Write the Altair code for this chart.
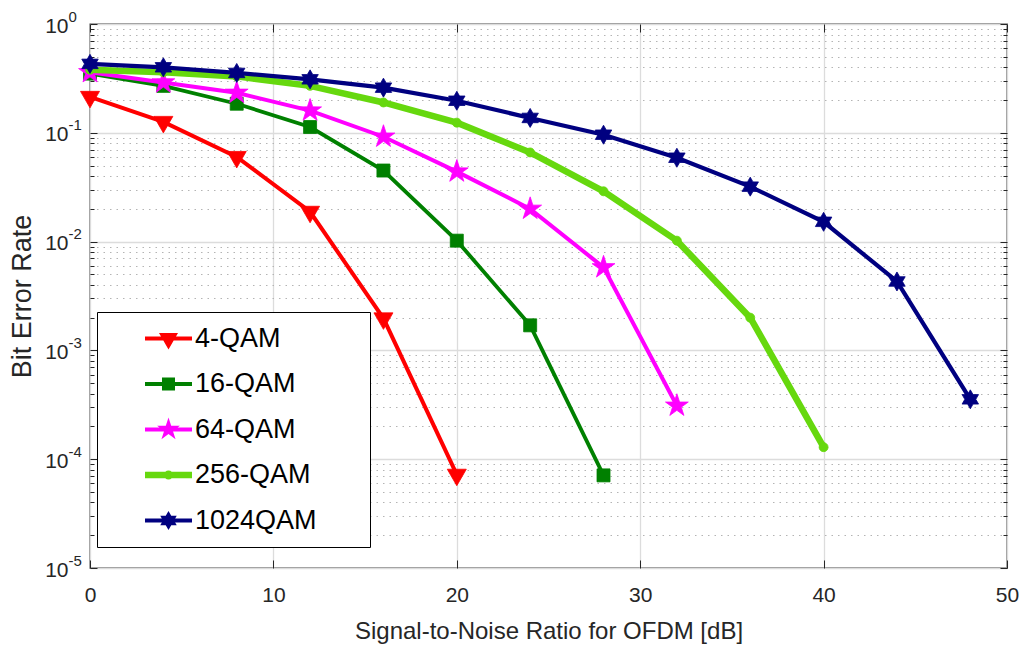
import math
import altair as alt
import pandas as pd

# ---------------- data ----------------
SERIES = ["4-QAM", "16-QAM", "64-QAM", "256-QAM", "1024QAM"]
COLORS = ["#ff0000", "#008000", "#ff00ff", "#66d80e", "#000080"]
LINE_WIDTHS = [4, 3.8, 4, 6.5, 4.2]

SNR_4 = [0, 4, 8, 12, 16, 20]
BER_4 = [0.214, 0.126, 0.060, 0.0188, 0.00197, 7.2e-5]

SNR_16 = [0, 4, 8, 12, 16, 20, 24, 28]
BER_16 = [0.35, 0.27, 0.185, 0.113, 0.045, 0.0102, 0.0017, 7.1e-5]

SNR_64 = [0, 4, 8, 12, 16, 20, 24, 28, 32]
BER_64 = [0.36, 0.29, 0.233, 0.16, 0.092, 0.044, 0.020, 0.0058, 3.1e-4]

SNR_256 = [0, 4, 8, 12, 16, 20, 24, 28, 32, 36, 40]
BER_256 = [0.38, 0.36, 0.33, 0.27, 0.19, 0.124, 0.066, 0.029, 0.0102, 0.0020, 1.29e-4]

SNR_1024 = [0, 4, 8, 12, 16, 20, 24, 28, 32, 36, 40, 44, 48]
BER_1024 = [0.43, 0.40, 0.355, 0.31, 0.26, 0.197, 0.137, 0.096, 0.059, 0.032, 0.0152, 0.0043, 3.55e-4]

X_TICKS = [0, 10, 20, 30, 40, 50]
Y_MAJOR = [1, 1e-1, 1e-2, 1e-3, 1e-4, 1e-5]
Y_MINOR = [m * 10.0 ** e for e in range(-5, 0) for m in range(2, 10)]

X_TITLE = "Signal-to-Noise Ratio for OFDM [dB]"
Y_TITLE = "Bit Error Rate"

rows = []
for name, xs, ys in zip(SERIES, [SNR_4, SNR_16, SNR_64, SNR_256, SNR_1024],
                        [BER_4, BER_16, BER_64, BER_256, BER_1024]):
    for x, y in zip(xs, ys):
        rows.append({"series": name, "snr": x, "ber": y})
df = pd.DataFrame(rows)

# ---------------- marker shapes (style) ----------------
S = 12.0  # px per path unit  -> symbol size (2*S)^2


def poly(pts):
    return "M" + "L".join(f"{x / S:.3f},{y / S:.3f}" for x, y in pts) + "Z"


def star(n, R, r):
    pts = []
    for i in range(2 * n):
        a = -math.pi / 2 + i * math.pi / n
        rad = R if i % 2 == 0 else r
        pts.append((rad * math.cos(a), rad * math.sin(a)))
    return poly(pts)


def circle(r):
    u = r / S
    return f"M{-u:.3f},0A{u:.3f},{u:.3f} 0 1 1 {u:.3f},0A{u:.3f},{u:.3f} 0 1 1 {-u:.3f},0Z"


MARKERS = [
    poly([(-9.5, -5.5), (9.5, -5.5), (0, 11)]),
    poly([(-6.5, -6.5), (6.5, -6.5), (6.5, 6.5), (-6.5, 6.5)]),
    star(5, 12, 4.6),
    circle(4.5),
    star(6, 9.5, 5.5),
]
LEG_PATHS = [poly([(-23.5, -w / 2), (23.5, -w / 2), (23.5, w / 2), (-23.5, w / 2)]) + m
             for w, m in zip(LINE_WIDTHS, MARKERS)]

W, H = 917, 544
FONT = "Liberation Sans"
AX = "#262626"

x_sc = alt.Scale(domain=[0, 50], nice=False, zero=False)
y_sc = alt.Scale(type="log", domain=[1e-5, 1], nice=False)

base = alt.Chart(df)


def ghost():
    return base.mark_point(opacity=0)


# major grid + tick labels + titles
L1 = ghost().encode(
    x=alt.X("snr:Q", scale=x_sc, axis=alt.Axis(
        orient="bottom", values=X_TICKS, grid=True, gridColor="#dcdcdc", gridWidth=1.3,
        ticks=False, tickSize=0, domain=False, labelFlush=False,
        labelFont=FONT, labelFontSize=21, labelColor=AX, labelPadding=16,
        title=X_TITLE, titleFont=FONT, titleFontSize=24, titleFontWeight="normal",
        titleColor=AX, titleX=W / 2, titleY=70, titleBaseline="alphabetic", titleAlign="center")),
    y=alt.Y("ber:Q", scale=y_sc, axis=alt.Axis(
        orient="left", values=Y_MAJOR, grid=True, gridColor="#dcdcdc", gridWidth=1.3,
        ticks=False, tickSize=0, domain=False, labelExpr="'10'",
        labelAlign="right", labelBaseline="middle", labelPadding=22, labelOffset=2,
        labelFont=FONT, labelFontSize=21, labelColor=AX,
        title=Y_TITLE, titleFont=FONT, titleFontSize=27, titleFontWeight="normal",
        titleColor=AX, titleX=-68, titleY=H / 2, titleAngle=270,
        titleBaseline="middle", titleAlign="center")),
)

# minor dotted grid
L4 = ghost().encode(
    y=alt.Y("ber:Q", scale=y_sc, axis=alt.Axis(
        orient="left", values=Y_MINOR, grid=True, gridColor="#b4b4b4", gridWidth=1,
        gridDash=[1.5, 5], ticks=False, tickSize=0, labels=False, domain=False, title=None)),
)

# exponent labels
L7 = ghost().encode(
    y=alt.Y("ber:Q", scale=y_sc, axis=alt.Axis(
        orient="left", values=Y_MAJOR, grid=False, ticks=False, tickSize=0, domain=False,
        labelExpr="toString(round(log(datum.value) / LN10))", labelAlign="left",
        labelBaseline="middle", labelPadding=22, labelOffset=-8,
        labelFont=FONT, labelFontSize=15, labelColor=AX, title=None)),
)

# inward ticks: bottom & left
L2 = ghost().encode(
    x=alt.X("snr:Q", scale=x_sc, axis=alt.Axis(
        orient="top", offset=-H, values=X_TICKS, grid=False, labels=False, domain=False,
        ticks=True, tickSize=8, tickColor=AX, tickWidth=1, title=None)),
    y=alt.Y("ber:Q", scale=y_sc, axis=alt.Axis(
        orient="right", offset=-W, values=Y_MAJOR, grid=False, labels=False, domain=False,
        ticks=True, tickSize=7, tickColor=AX, tickWidth=1, title=None)),
)
# inward ticks: top & right
L3 = ghost().encode(
    x=alt.X("snr:Q", scale=x_sc, axis=alt.Axis(
        orient="bottom", offset=-H, values=X_TICKS, grid=False, labels=False, domain=False,
        ticks=True, tickSize=8, tickColor=AX, tickWidth=1, title=None)),
    y=alt.Y("ber:Q", scale=y_sc, axis=alt.Axis(
        orient="left", offset=-W, values=Y_MAJOR, grid=False, labels=False, domain=False,
        ticks=True, tickSize=7, tickColor=AX, tickWidth=1, title=None)),
)
# minor inward ticks
L5 = ghost().encode(
    y=alt.Y("ber:Q", scale=y_sc, axis=alt.Axis(
        orient="right", offset=-W, values=Y_MINOR, grid=False, labels=False, domain=False,
        ticks=True, tickSize=4, tickColor=AX, tickWidth=1, title=None)),
)
L6 = ghost().encode(
    y=alt.Y("ber:Q", scale=y_sc, axis=alt.Axis(
        orient="left", offset=-W, values=Y_MINOR, grid=False, labels=False, domain=False,
        ticks=True, tickSize=4, tickColor=AX, tickWidth=1, title=None)),
)

# data: one line + marker layer per series (later series drawn on top)
series_layers = []
for name, col, lw, mk in zip(SERIES, COLORS, LINE_WIDTHS, MARKERS):
    sub = base.transform_filter(alt.datum.series == name)
    series_layers.append(sub.mark_line(color=col, strokeWidth=lw).encode(
        x=alt.X("snr:Q", scale=x_sc, axis=None),
        y=alt.Y("ber:Q", scale=y_sc, axis=None),
    ))
    series_layers.append(sub.mark_point(shape=mk, filled=True, color=col, opacity=1,
                                        size=(2 * S) ** 2, stroke=col, strokeWidth=0.8).encode(
        x=alt.X("snr:Q", scale=x_sc, axis=None),
        y=alt.Y("ber:Q", scale=y_sc, axis=None),
    ))

# the (invisible, white) title on the right only widens the legend box
LEG = alt.Legend(
    title="MM", titleOrient="right", titleColor="white", titleFontSize=21,
    titlePadding=5, titleFont=FONT,
    orient="none", legendX=7, legendY=288, padding=13,
    fillColor="white", strokeColor="#000000",
    symbolSize=(2 * S) ** 2, symbolStrokeWidth=0, symbolOffset=45, symbolOpacity=1,
    labelOffset=13, labelFont=FONT, labelFontSize=27, labelColor="#000000",
    labelLimit=600, rowPadding=17.5,
)

legend_layer = base.transform_filter("datum.ber < 0").mark_point(filled=True, opacity=1).encode(
    x=alt.X("snr:Q", scale=x_sc, axis=None),
    y=alt.Y("ber:Q", scale=y_sc, axis=None),
    color=alt.Color("series:N", scale=alt.Scale(domain=SERIES, range=COLORS), legend=LEG),
    shape=alt.Shape("series:N", scale=alt.Scale(domain=SERIES, range=LEG_PATHS), legend=LEG),
)

chart = alt.layer(L1, L4, L7, L2, L3, L5, L6, *series_layers, legend_layer).resolve_axis(
    x="independent", y="independent"
).properties(
    width=W, height=H,
    autosize=alt.AutoSizeParams(type="none"),
    padding={"left": 90, "top": 24, "right": 15, "bottom": 77},
    background="white",
).configure_view(stroke=AX, strokeWidth=1.3)

chart.save("out.html", embed_options={"renderer": "svg", "actions": False})
